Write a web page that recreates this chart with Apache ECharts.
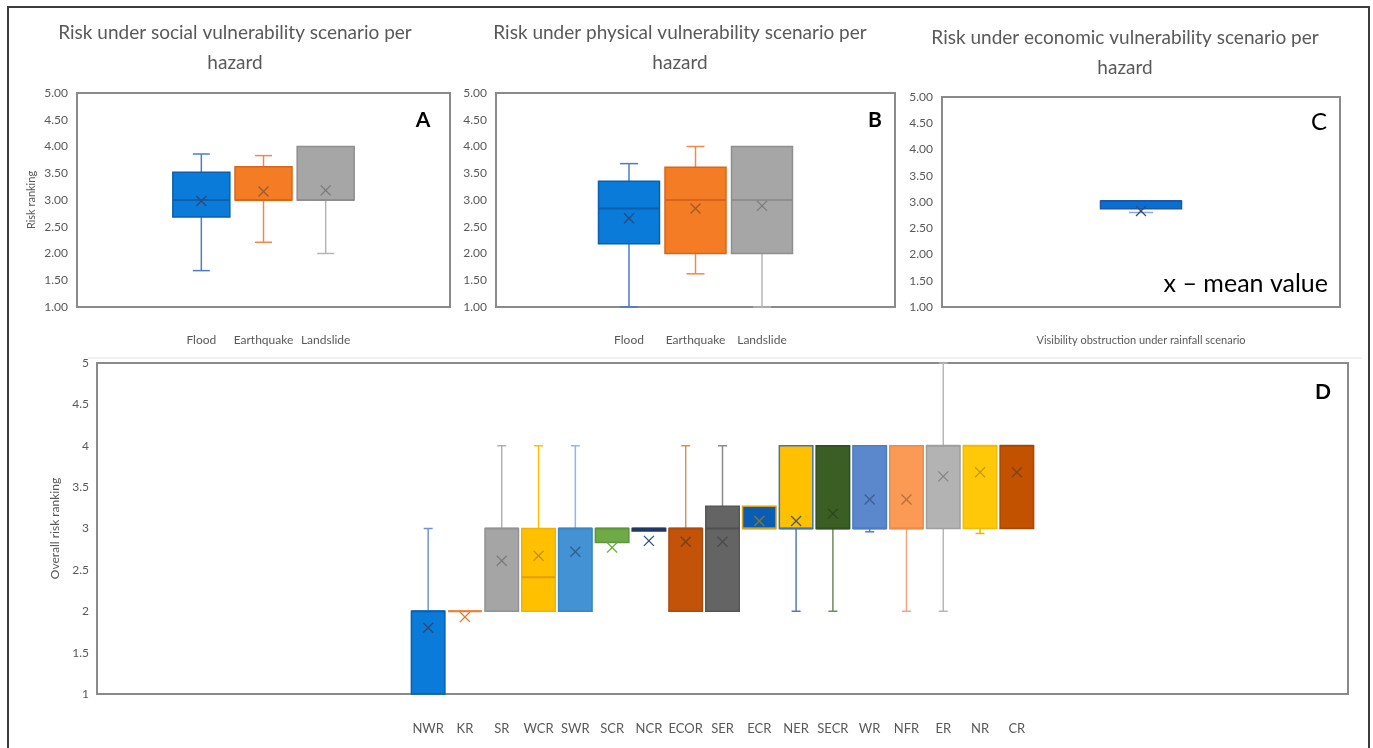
<!DOCTYPE html>
<html>
<head>
<meta charset="utf-8">
<script src="https://cdn.jsdelivr.net/npm/echarts@6/dist/echarts.min.js"></script>
<style>
html,body{margin:0;padding:0;background:#fff;}
#chart{width:1373px;height:748px;}
</style>
</head>
<body>
<div id="chart"></div>
<script>
// ---------------- DATA ----------------
const hazards = ['Flood', 'Earthquake', 'Landslide'];
// each row: [min, Q1, median, Q3, max]
const socialStats = [
  [1.68, 2.68, 3.00, 3.52, 3.86],
  [2.21, 3.00, 3.00, 3.62, 3.83],
  [2.00, 3.00, 3.00, 4.00, 4.00]
];
const socialMean = [2.98, 3.16, 3.18];

const physicalStats = [
  [1.00, 2.18, 2.84, 3.35, 3.68],
  [1.62, 2.00, 3.00, 3.61, 4.00],
  [1.00, 2.00, 3.00, 4.00, 4.00]
];
const physicalMean = [2.66, 2.84, 2.89];

const economicCategories = ['Visibility obstruction under rainfall scenario'];
const economicStats = [[2.80, 2.87, 3.02, 3.02, 3.02]];
const economicMean = [2.83];

const regions = ['NWR', 'KR', 'SR', 'WCR', 'SWR', 'SCR', 'NCR', 'ECOR', 'SER', 'ECR', 'NER', 'SECR', 'WR', 'NFR', 'ER', 'NR', 'CR'];
const overallStats = [
  [1.00, 1.00, 2.00, 2.00, 3.00], // NWR
  [2.00, 2.00, 2.00, 2.00, 2.00], // KR
  [2.00, 2.00, 3.00, 3.00, 4.00], // SR
  [2.00, 2.00, 2.41, 3.00, 4.00], // WCR
  [2.00, 2.00, 3.00, 3.00, 4.00], // SWR
  [2.83, 2.83, 3.00, 3.00, 3.00], // SCR
  [2.97, 2.97, 3.00, 3.00, 3.00], // NCR
  [2.00, 2.00, 3.00, 3.00, 4.00], // ECOR
  [2.00, 2.00, 3.00, 3.27, 4.00], // SER
  [3.00, 3.00, 3.00, 3.27, 3.27], // ECR
  [2.00, 3.00, 3.00, 4.00, 4.00], // NER
  [2.00, 3.00, 3.00, 4.00, 4.00], // SECR
  [2.96, 3.00, 3.00, 4.00, 4.00], // WR
  [2.00, 3.00, 3.00, 4.00, 4.00], // NFR
  [2.00, 3.00, 4.00, 4.00, 5.00], // ER
  [2.94, 3.00, 4.00, 4.00, 4.00], // NR
  [3.00, 3.00, 4.00, 4.00, 4.00]  // CR
];
const overallMean = [1.80, 1.93, 2.61, 2.67, 2.72, 2.77, 2.85, 2.84, 2.84, 3.09, 3.09, 3.18, 3.35, 3.35, 3.63, 3.68, 3.68];

// ---------------- STYLES ----------------
const hazardStyle = [
  { fill: '#0a7bd8', stroke: '#0b5fae', whisker: '#4f7ac7', mark: '#2c4a78' },
  { fill: '#f47c24', stroke: '#d8661a', whisker: '#ef8a4c', mark: '#9a5a2c' },
  { fill: '#a6a6a6', stroke: '#8e8e8e', whisker: '#b4b4b4', mark: '#7a7a7a' }
];
const economicStyle = [{ fill: '#0b6fd1', stroke: '#1d57a8', whisker: '#8ea7d8', mark: '#2f4a7a' }];
const regionStyle = [
  { fill: '#0a7bd8', stroke: '#0b5fae', whisker: '#6f93d2', mark: '#2c4a78' }, // NWR
  { fill: '#ed7d31', stroke: '#ed7d31', whisker: '#ed7d31', mark: '#e07a3c' }, // KR
  { fill: '#a5a5a5', stroke: '#939393', whisker: '#b0b0b0', mark: '#7c7c7c' }, // SR
  { fill: '#ffc000', stroke: '#f0b400', whisker: '#ffc000', mark: '#c8900a', med: '#e39e00' }, // WCR
  { fill: '#4392d3', stroke: '#3b84c6', whisker: '#94b8e2', mark: '#2f5f90' }, // SWR
  { fill: '#6faa46', stroke: '#5d963a', whisker: '#6faa46', mark: '#6faa46' }, // SCR
  { fill: '#1f3864', stroke: '#1f3864', whisker: '#1f3864', mark: '#2f4f86' }, // NCR
  { fill: '#c35308', stroke: '#ad4a0c', whisker: '#d2916a', mark: '#7e3d14' }, // ECOR
  { fill: '#646464', stroke: '#575757', whisker: '#8a8a8a', mark: '#4a4a4a', med: '#4f4f4f' }, // SER
  { fill: '#0b5cb5', stroke: '#d5a21c', whisker: '#d5a21c', mark: '#7d7a2a' }, // ECR
  { fill: '#ffc000', stroke: '#3e74b8', whisker: '#5579bf', mark: '#4a5a6a' }, // NER
  { fill: '#3b5e24', stroke: '#314f1e', whisker: '#6e8a5c', mark: '#2c461c' }, // SECR
  { fill: '#5b88cd', stroke: '#4e7cc2', whisker: '#4e7cc2', mark: '#3e5f95' }, // WR
  { fill: '#fb9a55', stroke: '#ec8a4a', whisker: '#f2a582', mark: '#b8703f' }, // NFR
  { fill: '#b3b3b3', stroke: '#9f9f9f', whisker: '#b6b6b6', mark: '#858585' }, // ER
  { fill: '#ffc90a', stroke: '#f0bb00', whisker: '#f0b000', mark: '#c8980a' }, // NR
  { fill: '#c25100', stroke: '#a94700', whisker: '#c25100', mark: '#7e4420' }  // CR
];

const FONT = 'Lato';
const GREY = '#595959';

// ---------------- HELPERS ----------------
function rows(stats, means, offset) {
  return stats.map((s, i) => [i + offset].concat(s).concat([means[i]]));
}

function makeRender(styles, boxW, capW, xHalf) {
  return function (params, api) {
    const st = styles[params.dataIndex];
    const x = api.value(0);
    const mn = api.value(1), q1 = api.value(2), md = api.value(3), q3 = api.value(4), mx = api.value(5), mean = api.value(6);
    const P = v => api.coord([x, v]);
    const cx = P(q1)[0];
    const yMin = P(mn)[1], yQ1 = P(q1)[1], yMd = P(md)[1], yQ3 = P(q3)[1], yMax = P(mx)[1], yMean = P(mean)[1];
    const ws = { stroke: st.whisker, lineWidth: 1.5 };
    const ch = [];
    if (mx > q3) {
      ch.push({ type: 'line', shape: { x1: cx, y1: yQ3, x2: cx, y2: yMax }, style: ws });
      ch.push({ type: 'line', shape: { x1: cx - capW / 2, y1: yMax, x2: cx + capW / 2, y2: yMax }, style: ws });
    }
    if (mn < q1) {
      ch.push({ type: 'line', shape: { x1: cx, y1: yQ1, x2: cx, y2: yMin }, style: ws });
      ch.push({ type: 'line', shape: { x1: cx - capW / 2, y1: yMin, x2: cx + capW / 2, y2: yMin }, style: ws });
    }
    ch.push({ type: 'rect', shape: { x: cx - boxW / 2, y: yQ3, width: boxW, height: yQ1 - yQ3 },
      style: { fill: st.fill, stroke: st.stroke, lineWidth: 1.5 } });
    ch.push({ type: 'line', shape: { x1: cx - boxW / 2, y1: yMd, x2: cx + boxW / 2, y2: yMd },
      style: { stroke: st.med || st.stroke, lineWidth: 2 } });
    ch.push({ type: 'line', shape: { x1: cx - xHalf, y1: yMean - xHalf, x2: cx + xHalf, y2: yMean + xHalf }, style: { stroke: st.mark, lineWidth: 1.3 } });
    ch.push({ type: 'line', shape: { x1: cx - xHalf, y1: yMean + xHalf, x2: cx + xHalf, y2: yMean - xHalf }, style: { stroke: st.mark, lineWidth: 1.3 } });
    return { type: 'group', children: ch };
  };
}

const gridBorder = { show: true, borderColor: '#8a8a8a', borderWidth: 2, backgroundColor: 'transparent' };

function yAxisTop(gridIndex, name) {
  return {
    type: 'value', gridIndex: gridIndex, min: 1, max: 5, interval: 0.5,
    axisLine: { show: false }, axisTick: { show: false }, splitLine: { show: false },
    axisLabel: { color: GREY, fontFamily: FONT, fontSize: 12, margin: 9, formatter: v => v.toFixed(2) },
    name: name || '', nameLocation: 'middle', nameGap: 40,
    nameTextStyle: { color: GREY, fontFamily: FONT, fontSize: 11 }
  };
}

function xAxisCat(gridIndex, max, names, offset, fontSize, margin) {
  return {
    type: 'value', gridIndex: gridIndex, min: 0, max: max, interval: 1,
    axisLine: { show: false }, axisTick: { show: false }, splitLine: { show: false },
    axisLabel: {
      color: GREY, fontFamily: FONT, fontSize: fontSize, margin: margin,
      showMinLabel: true, showMaxLabel: true,
      formatter: v => (names[Math.round(v) - offset] !== undefined ? names[Math.round(v) - offset] : '')
    }
  };
}

const chart = echarts.init(document.getElementById('chart'), null, { renderer: 'canvas' });

const titleStyle = { color: GREY, fontFamily: FONT, fontSize: 19, fontWeight: 'normal', lineHeight: 30 };

const option = {
  animation: false,
  backgroundColor: '#fff',
  title: [
    { text: 'Risk under social vulnerability scenario per\nhazard', left: 235, top: 18, padding: 0, textAlign: 'center', textStyle: titleStyle },
    { text: 'Risk under physical vulnerability scenario per\nhazard', left: 680, top: 18, padding: 0, textAlign: 'center', textStyle: titleStyle },
    { text: 'Risk under economic vulnerability scenario per\nhazard', left: 1125, top: 23, padding: 0, textAlign: 'center', textStyle: titleStyle }
  ],
  grid: [
    Object.assign({ left: 77, top: 93, width: 373, height: 214 }, gridBorder),
    Object.assign({ left: 496, top: 93, width: 399, height: 214 }, gridBorder),
    Object.assign({ left: 942, top: 97, width: 398, height: 210 }, gridBorder),
    Object.assign({ left: 97, top: 363, width: 1251, height: 331 }, gridBorder)
  ],
  xAxis: [
    xAxisCat(0, 6, hazards, 2, 12, 27),
    xAxisCat(1, 6, hazards, 2, 12, 27),
    xAxisCat(2, 2, economicCategories, 1, 11, 28),
    xAxisCat(3, 34, regions, 9, 13, 28)
  ],
  yAxis: [
    yAxisTop(0, 'Risk ranking'),
    yAxisTop(1),
    yAxisTop(2),
    {
      type: 'value', gridIndex: 3, min: 1, max: 5, interval: 0.5,
      axisLine: { show: false }, axisTick: { show: false }, splitLine: { show: false },
      axisLabel: { color: GREY, fontFamily: FONT, fontSize: 12, margin: 8, formatter: v => String(v) },
      name: 'Overall risk ranking', nameLocation: 'middle', nameGap: 35,
      nameTextStyle: { color: GREY, fontFamily: FONT, fontSize: 12 }
    }
  ],
  series: [
    { type: 'custom', xAxisIndex: 0, yAxisIndex: 0, data: rows(socialStats, socialMean, 2),
      encode: { x: 0, y: [1, 2, 3, 4, 5, 6] }, renderItem: makeRender(hazardStyle, 57, 17, 5) },
    { type: 'custom', xAxisIndex: 1, yAxisIndex: 1, data: rows(physicalStats, physicalMean, 2),
      encode: { x: 0, y: [1, 2, 3, 4, 5, 6] }, renderItem: makeRender(hazardStyle, 61, 18, 5) },
    { type: 'custom', xAxisIndex: 2, yAxisIndex: 2, data: rows(economicStats, economicMean, 1),
      encode: { x: 0, y: [1, 2, 3, 4, 5, 6] }, renderItem: makeRender(economicStyle, 81, 24, 5) },
    { type: 'custom', xAxisIndex: 3, yAxisIndex: 3, data: rows(overallStats, overallMean, 9),
      encode: { x: 0, y: [1, 2, 3, 4, 5, 6] }, renderItem: makeRender(regionStyle, 33.5, 9, 5) }
  ],
  graphic: [
    { type: 'rect', silent: true, z: 100, shape: { x: 8, y: 7, width: 1361, height: 760 },
      style: { fill: 'none', stroke: '#3c3c3c', lineWidth: 2 } },
    { type: 'line', silent: true, shape: { x1: 88, y1: 358, x2: 1362, y2: 358 }, style: { stroke: '#e2e2e2', lineWidth: 1 } },
    { type: 'text', z: 100, style: { text: 'A', x: 423, y: 120, textAlign: 'center', textVerticalAlign: 'middle', font: 'bold 21px ' + FONT, fill: '#000' } },
    { type: 'text', z: 100, style: { text: 'B', x: 875, y: 120, textAlign: 'center', textVerticalAlign: 'middle', font: 'bold 21px ' + FONT, fill: '#000' } },
    { type: 'text', z: 100, style: { text: 'C', x: 1319, y: 122, textAlign: 'center', textVerticalAlign: 'middle', font: 'normal 24px ' + FONT, fill: '#000' } },
    { type: 'text', z: 100, style: { text: 'x – mean value', x: 1328, y: 284, textAlign: 'right', textVerticalAlign: 'middle', font: 'normal 25px ' + FONT, fill: '#000' } },
    { type: 'text', z: 100, style: { text: 'D', x: 1323, y: 392, textAlign: 'center', textVerticalAlign: 'middle', font: 'bold 21px ' + FONT, fill: '#000' } }
  ]
};

chart.setOption(option);
</script>
</body>
</html>
